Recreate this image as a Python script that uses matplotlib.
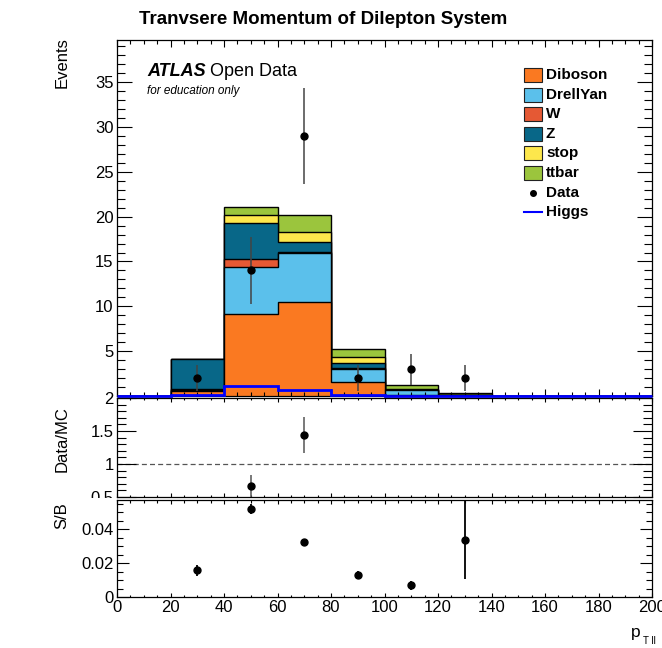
import matplotlib
matplotlib.use('Agg')
import matplotlib.pyplot as plt
import numpy as np
from matplotlib.patches import Rectangle
from matplotlib.lines import Line2D
from matplotlib.ticker import MultipleLocator, FuncFormatter

plt.rcParams['font.family'] = ['Liberation Sans', 'DejaVu Sans']

# ---------------- data ----------------
bin_edges = [0, 20, 40, 60, 80, 100, 120, 140, 160, 180, 200]
samples = ['Diboson', 'DrellYan', 'W', 'Z', 'stop', 'ttbar']
diboson = [0, 0.6, 9.2, 10.5, 1.55, 0.1, 0.1, 0, 0, 0]
drellyan = [0, 0.1, 5.2, 5.5, 1.5, 0.55, 0, 0, 0, 0]
w_boson = [0, 0.1, 0.9, 0.1, 0.05, 0, 0, 0, 0, 0]
z_boson = [0, 3.3, 4.0, 1.1, 0.55, 0.05, 0.05, 0, 0, 0]
stop = [0, 0, 0.85, 1.05, 0.75, 0.05, 0, 0, 0, 0]
ttbar = [0, 0, 0.95, 1.9, 0.8, 0.45, 0.15, 0, 0.05, 0]
data = [0, 2, 14, 29, 2, 3, 2, 0, 0, 0]
higgs = [0, 0.065, 1.1, 0.65, 0.068, 0.008, 0.011, 0, 0, 0]
sb_centers = [30, 50, 70, 90, 110, 130]
sb_values = [0.0158, 0.0519, 0.0323, 0.0131, 0.0069, 0.0338]
sb_errors = [0.0032, 0.003, 0.0015, 0.002, 0.0025, 0.023]
colors = ['#FA7921', '#5BC0EB', '#E55934', '#086788', '#FDE74C', '#9BC53D']

W, H = 662, 648
fig = plt.figure(figsize=(W / 100, H / 100), dpi=100)


def fx(x):
    return x / W


def fy(y):
    return 1 - y / H


L, R = 117, 652
ax1 = fig.add_axes([fx(L), fy(396), (R - L) / W, (396 - 40) / H])
ax2 = fig.add_axes([fx(L), fy(497), (R - L) / W, (497 - 398) / H])
ax3 = fig.add_axes([fx(L), fy(597), (R - L) / W, (597 - 500) / H])
ax3.set_zorder(2)

edges = np.array(bin_edges, dtype=float)
centers = 0.5 * (edges[:-1] + edges[1:])
layers = [diboson, drellyan, w_boson, z_boson, stop, ttbar]
cum = np.cumsum(np.array(layers, dtype=float), axis=0)
total = cum[-1]

# main stack: draw cumulative from largest to smallest
for i in range(len(layers) - 1, -1, -1):
    ax1.stairs(cum[i], edges, baseline=0, fill=True, facecolor=colors[i],
               edgecolor='black', linewidth=1.0, zorder=1)
ax1.stairs(higgs, edges, baseline=0, color='#0000FF', linewidth=2.0,
           zorder=3, clip_on=False)
d = np.array(data, dtype=float)
m = d > 0
ax1.errorbar(centers[m], d[m], yerr=np.sqrt(d[m]), fmt='none',
             ecolor='#444444', elinewidth=1.1, zorder=4)
ax1.plot(centers[m], d[m], 'o', color='black', ms=5, zorder=5)
ax1.set_xlim(0, 200)
ax1.set_ylim(0, 39.7)

# ratio
mr = (d > 0) & (total > 0)
ratio = np.where(mr, d / np.where(total > 0, total, 1), np.nan)
rerr = np.where(mr, np.sqrt(d) / np.where(total > 0, total, 1), np.nan)
inr = mr & (ratio >= 0.5) & (ratio <= 2.0)
ax2.axhline(1.0, color='#555555', lw=0.9, ls=(0, (4, 2.5)), zorder=1)
ax2.errorbar(centers[inr], ratio[inr], yerr=rerr[inr], fmt='none',
             ecolor='#555555', elinewidth=1.1, zorder=3)
ax2.plot(centers[inr], ratio[inr], 'o', color='black', ms=5, zorder=4)
ax2.set_xlim(0, 200)
ax2.set_ylim(0.5, 2.0)

# S/B
ax3.errorbar(sb_centers, sb_values, yerr=sb_errors, fmt='none',
             ecolor='black', elinewidth=1.3, zorder=3)
ax3.plot(sb_centers, sb_values, 'o', color='black', ms=5, zorder=4)
ax3.set_xlim(0, 200)
ax3.set_ylim(0, 0.0572)

fmt_g = FuncFormatter(lambda v, p: '%g' % round(v, 6))
fmt_main = FuncFormatter(lambda v, p: '' if abs(v) < 1e-9 else '%g' % v)


def style(ax, xmaj, xmin_, ymaj, ymin_, xstep, xminor, ystep, yminor):
    ax.xaxis.set_major_locator(MultipleLocator(xstep))
    ax.xaxis.set_minor_locator(MultipleLocator(xminor))
    ax.yaxis.set_major_locator(MultipleLocator(ystep))
    ax.yaxis.set_minor_locator(MultipleLocator(yminor))
    ax.tick_params(which='both', direction='in', top=True, right=True,
                   width=0.8, color='black', labelsize=12, pad=2.5)
    ax.tick_params(axis='x', which='major', length=xmaj)
    ax.tick_params(axis='x', which='minor', length=xmin_)
    ax.tick_params(axis='y', which='major', length=ymaj)
    ax.tick_params(axis='y', which='minor', length=ymin_)
    for s in ax.spines.values():
        s.set_linewidth(0.9)


style(ax1, 5, 2.6, 10.8, 5.8, 20, 5, 5, 1)
style(ax2, 3, 1.6, 13.7, 6.8, 20, 5, 0.5, 0.1)
style(ax3, 3, 1.8, 8.6, 4.4, 20, 5, 0.02, 0.005)
ax1.yaxis.set_major_formatter(fmt_main)
ax2.yaxis.set_major_formatter(fmt_g)
ax3.yaxis.set_major_formatter(fmt_g)
ax3.xaxis.set_major_formatter(fmt_g)
ax1.tick_params(axis='x', labelbottom=False)
ax2.tick_params(axis='x', labelbottom=False)

# cover lower part of ratio's lowest label (as in the pad layout)
fig.add_artist(Rectangle((0, 0), fx(L - 1), fy(497.5), transform=fig.transFigure,
                         facecolor='white', edgecolor='none', zorder=1))

# texts
fig.text(fx(323), fy(20), 'Tranvsere Momentum of Dilepton System',
         ha='center', va='center', weight='bold', size=13.5)
fig.text(fx(147), fy(72), 'ATLAS', ha='left', va='center', weight='bold',
         style='italic', size=13)
fig.text(fx(210), fy(72), 'Open Data', ha='left', va='center', size=13)
fig.text(fx(147), fy(91), 'for education only', ha='left', va='center',
         style='italic', size=8.5)
fig.text(fx(62), fy(37), 'Events', rotation=90, ha='center', va='top', size=12)
fig.text(fx(62), fy(439), 'Data/MC', rotation=90, ha='center', va='center', size=12)
fig.text(fx(62), fy(502), 'S/B', rotation=90, ha='center', va='top', size=12)
fig.text(fx(636), fy(632), 'p', ha='center', va='center', size=12.5)
fig.text(fx(649), fy(641), 'T ll', ha='center', va='center', size=7)

# legend
row0, dy = 75, 19.6
for i, name in enumerate(samples):
    yc = row0 + i * dy
    fig.add_artist(Rectangle((fx(523.5), fy(yc + 7)), 18.5 / W, 14 / H,
                             transform=fig.transFigure, facecolor=colors[i],
                             edgecolor='#222222', linewidth=0.8, zorder=3))
    fig.text(fx(546), fy(yc), name, ha='left', va='center', weight='bold', size=11)
yc = row0 + 6 * dy
fig.add_artist(Line2D([fx(532.7)], [fy(yc)], marker='o', ms=4, color='black',
                      transform=fig.transFigure, zorder=3))
fig.text(fx(546), fy(yc), 'Data', ha='left', va='center', weight='bold', size=11)
yc = row0 + 7 * dy
fig.add_artist(Line2D([fx(524), fx(542)], [fy(yc), fy(yc)], color='#0000FF', lw=1.5,
                      transform=fig.transFigure, zorder=3))
fig.text(fx(546), fy(yc), 'Higgs', ha='left', va='center', weight='bold', size=11)

fig.savefig('out.png', dpi=100)
